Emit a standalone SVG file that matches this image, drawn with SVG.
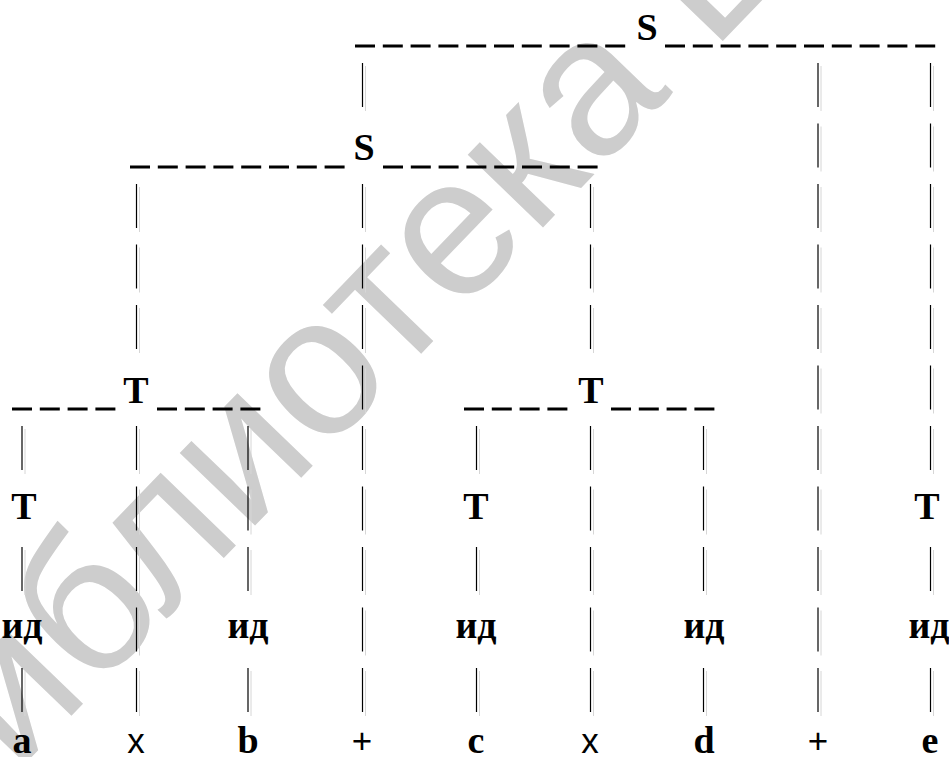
<svg xmlns="http://www.w3.org/2000/svg" width="949" height="757" viewBox="0 0 949 757">
<style>
.wm{font-family:"Liberation Sans",Arial,sans-serif;font-size:198px;fill:#cdcdcd}
.lbl{font-family:"Liberation Serif","Times New Roman",serif;font-weight:bold;font-size:38px;text-anchor:middle;fill:#000}
.op{font-family:"Liberation Sans",Arial,sans-serif;font-size:35px;text-anchor:middle;fill:#000}
.dash{stroke:#000;stroke-width:3;stroke-dasharray:20 7.8;fill:none}
.sd{stroke:#000;stroke-width:1.2}
.sg{stroke:#d6d6d6;stroke-width:1}
</style>
<defs>
<g id="seg"><line class="sg" x1="3" y1="3" x2="3" y2="48"/><line class="sd" x1="0" y1="0" x2="0" y2="44"/></g>
</defs>
<rect width="949" height="757" fill="#fff"/>
<text class="wm" transform="translate(-63,855) rotate(-46)">библиотека БГУИР</text>
<g id="connectors">
<line class="dash" x1="355" y1="46" x2="628" y2="46"/>
<line class="dash" x1="665" y1="46" x2="938" y2="46"/>
<line class="dash" x1="130" y1="167" x2="345" y2="167"/>
<line class="dash" x1="383" y1="167" x2="598" y2="167"/>
<line class="dash" x1="12" y1="409" x2="116" y2="409"/>
<line class="dash" x1="157" y1="409" x2="261" y2="409"/>
<line class="dash" x1="464" y1="409" x2="568" y2="409"/>
<line class="dash" x1="611" y1="409" x2="715" y2="409"/>
<g id="col-a"><use href="#seg" x="22" y="426"/><use href="#seg" x="22" y="547"/><use href="#seg" x="22" y="668"/></g>
<g id="col-x1"><use href="#seg" x="136.5" y="184"/><use href="#seg" x="136.5" y="244.5"/><use href="#seg" x="136.5" y="305"/><use href="#seg" x="136.5" y="426"/><use href="#seg" x="136.5" y="486.5"/><use href="#seg" x="136.5" y="547"/><use href="#seg" x="136.5" y="607.5"/><use href="#seg" x="136.5" y="668"/></g>
<g id="col-b"><use href="#seg" x="248" y="426"/><use href="#seg" x="248" y="486.5"/><use href="#seg" x="248" y="547"/><use href="#seg" x="248" y="668"/></g>
<g id="col-p1"><use href="#seg" x="362.5" y="63"/><use href="#seg" x="362.5" y="184"/><use href="#seg" x="362.5" y="244.5"/><use href="#seg" x="362.5" y="305"/><use href="#seg" x="362.5" y="365.5"/><use href="#seg" x="362.5" y="426"/><use href="#seg" x="362.5" y="486.5"/><use href="#seg" x="362.5" y="547"/><use href="#seg" x="362.5" y="607.5"/><use href="#seg" x="362.5" y="668"/></g>
<g id="col-c"><use href="#seg" x="476.5" y="426"/><use href="#seg" x="476.5" y="547"/><use href="#seg" x="476.5" y="668"/></g>
<g id="col-x2"><use href="#seg" x="590.5" y="184"/><use href="#seg" x="590.5" y="244.5"/><use href="#seg" x="590.5" y="305"/><use href="#seg" x="590.5" y="426"/><use href="#seg" x="590.5" y="486.5"/><use href="#seg" x="590.5" y="547"/><use href="#seg" x="590.5" y="607.5"/><use href="#seg" x="590.5" y="668"/></g>
<g id="col-d"><use href="#seg" x="703.5" y="426"/><use href="#seg" x="703.5" y="486.5"/><use href="#seg" x="703.5" y="547"/><use href="#seg" x="703.5" y="668"/></g>
<g id="col-p2"><use href="#seg" x="818" y="63"/><use href="#seg" x="818" y="123.5"/><use href="#seg" x="818" y="184"/><use href="#seg" x="818" y="244.5"/><use href="#seg" x="818" y="305"/><use href="#seg" x="818" y="365.5"/><use href="#seg" x="818" y="426"/><use href="#seg" x="818" y="486.5"/><use href="#seg" x="818" y="547"/><use href="#seg" x="818" y="607.5"/><use href="#seg" x="818" y="668"/></g>
<g id="col-e"><use href="#seg" x="930.5" y="63"/><use href="#seg" x="930.5" y="123.5"/><use href="#seg" x="930.5" y="184"/><use href="#seg" x="930.5" y="244.5"/><use href="#seg" x="930.5" y="305"/><use href="#seg" x="930.5" y="365.5"/><use href="#seg" x="930.5" y="426"/><use href="#seg" x="930.5" y="547"/><use href="#seg" x="930.5" y="668"/></g>
</g>
<g id="S-top"><text class="lbl" x="647" y="40">S</text></g>
<g id="S-mid"><text class="lbl" x="364" y="160">S</text></g>
<g id="T-left"><text class="lbl" x="136" y="403">T</text></g>
<g id="T-right"><text class="lbl" x="591" y="403">T</text></g>
<g id="T-a"><text class="lbl" x="24" y="519">T</text></g>
<g id="T-c"><text class="lbl" x="476" y="519">T</text></g>
<g id="T-e"><text class="lbl" x="927" y="519">T</text></g>
<g id="id-a"><text class="lbl" x="22" y="638">ид</text></g>
<g id="id-b"><text class="lbl" x="248" y="638">ид</text></g>
<g id="id-c"><text class="lbl" x="476" y="638">ид</text></g>
<g id="id-d"><text class="lbl" x="704" y="638">ид</text></g>
<g id="id-e"><text class="lbl" x="929" y="638">ид</text></g>
<g id="t-a"><text class="lbl" x="22" y="753">a</text></g>
<g id="t-x1"><text class="op" x="136" y="753">x</text></g>
<g id="t-b"><text class="lbl" x="248" y="753">b</text></g>
<g id="t-p1"><text class="op" x="362" y="753">+</text></g>
<g id="t-c"><text class="lbl" x="476" y="753">c</text></g>
<g id="t-x2"><text class="op" x="590" y="753">x</text></g>
<g id="t-d"><text class="lbl" x="704" y="753">d</text></g>
<g id="t-p2"><text class="op" x="818" y="753">+</text></g>
<g id="t-e"><text class="lbl" x="930" y="753">e</text></g>
</svg>
